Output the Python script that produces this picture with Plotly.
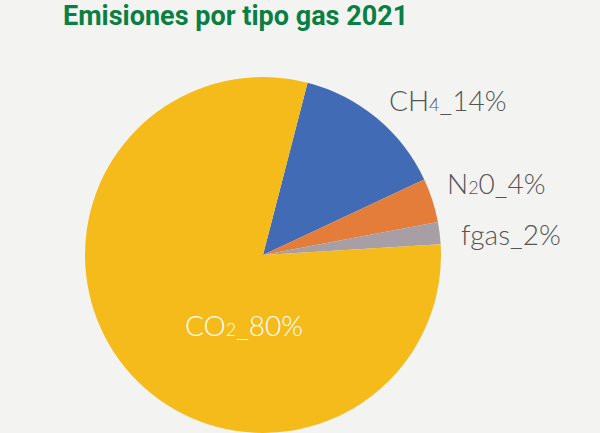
import plotly.graph_objects as go

labels = ["CH₄", "N₂O", "fgas", "CO₂"]
values = [14, 4, 2, 80]
colors = ["#416CB5", "#E57D3A", "#A79FA5", "#F4BB1B"]
text_labels = ["CH₄_14%", "N₂0_4%", "fgas_2%", "CO₂_80%"]

SUB = {"₂": "2", "₄": "4"}


def fmt(t):
    out = ""
    for ch in t:
        if ch in SUB:
            out += "<span style='font-size:18px'>" + SUB[ch] + "</span>"
        else:
            out += ch
    return out


fig = go.Figure(go.Pie(
    labels=labels, values=values, sort=False, direction="clockwise",
    rotation=14.5, textinfo="none", hoverinfo="label+percent",
    marker=dict(colors=colors, line=dict(width=0)),
    domain=dict(x=[85/600, 441/600], y=[0, 356/433]),
    showlegend=False,
))

# label placement (paper px)
pos = [(447, 100, "#555555"), (496, 183, "#555555"), (511, 234, "#555555"), (244, 325, "#FFFFFF")]
for t, (x, y, c) in zip(text_labels, pos):
    fig.add_annotation(x=x/600, y=1 - y/433, xref="paper", yref="paper",
                       text=fmt(t), showarrow=False, xanchor="center", yanchor="middle",
                       font=dict(family="Lato", size=28, color=c, weight=300))

fig.add_annotation(x=61/600, y=1 - 16/433, xref="paper", yref="paper",
                   text="<b>Emisiones por tipo gas 2021</b>", showarrow=False,
                   xanchor="left", yanchor="middle",
                   font=dict(family="Roboto", size=27, color="#0A7F44"))

fig.update_layout(width=600, height=433, margin=dict(l=0, r=0, t=0, b=0),
                  paper_bgcolor="#F3F3F1", plot_bgcolor="#F3F3F1")
fig.write_html("out.html", config={"displayModeBar": False},
               post_script="document.body.style.margin='0';document.body.style.overflow='hidden';")
